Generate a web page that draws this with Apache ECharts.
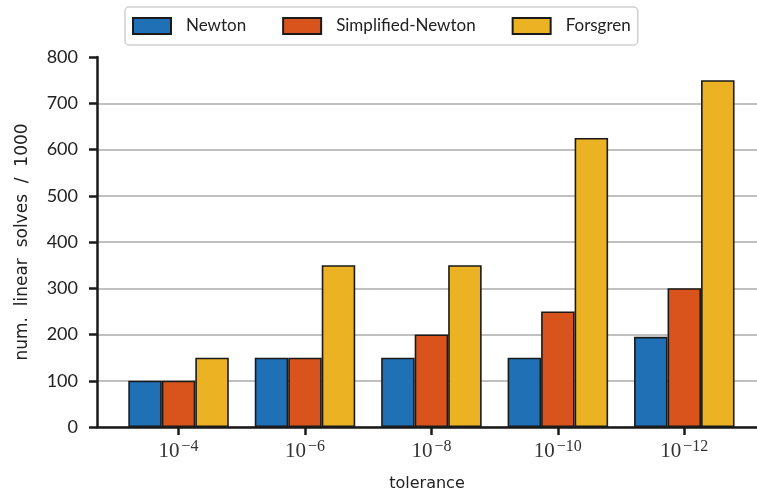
<!DOCTYPE html>
<html>
<head>
<meta charset="utf-8">
<script src="https://cdn.jsdelivr.net/npm/echarts@6/dist/echarts.min.js"></script>
<style>
  html, body { margin: 0; padding: 0; background: #fff; }
  #chart { width: 757px; height: 492px; }
</style>
</head>
<body>
<div id="chart"></div>
<script>
// tolerance exponents (10^x) for each group
const exponents = ['-4', '-6', '-8', '-10', '-12']
const seriesNames = ['Newton', 'Simplified-Newton', 'Forsgren']
const newton = [100, 150, 150, 150, 195]
const simplifiedNewton = [100, 150, 200, 250, 300]
const forsgren = [150, 350, 350, 625, 750]
const yTicks = [0, 100, 200, 300, 400, 500, 600, 700, 800]

const colors = ['#1f70b4', '#d9541c', '#ebb223']
const font = 'Lato'
const nameFont = 'DejaVu Sans'

const c = echarts.init(document.getElementById('chart'))

const mkBar = (name, vals, i) => ({
  name, type: 'bar',
  data: vals.map((v, k) => [k, v]),
  barWidth: 33.5, barGap: '0%',
  itemStyle: { color: colors[i], borderColor: '#1a1a1a', borderWidth: 1.6 }
})

c.setOption({
  animation: false,
  textStyle: { fontFamily: font },
  legend: {
    data: seriesNames,
    icon: 'rect',
    left: 125, top: 7,
    padding: [10, 7],
    itemWidth: 38, itemHeight: 16, itemGap: 36,
    borderColor: '#d0d0d0', borderWidth: 1.5, borderRadius: 4,
    textStyle: { fontSize: 17, color: '#222', fontFamily: font, padding: [0, 0, 0, 10] }
  },
  grid: { left: 97, right: 0, top: 57, bottom: 65, outerBoundsMode: 'none', containLabel: false },
  xAxis: {
    type: 'value', min: -0.645, max: 4.575,
    name: 'tolerance', nameLocation: 'middle', nameGap: 49,
    nameTextStyle: { fontSize: 16, color: '#222', fontFamily: nameFont },
    axisLine: { show: true, onZero: false, lineStyle: { color: '#1a1a1a', width: 2.5 } },
    axisTick: { show: true, customValues: [0, 1, 2, 3, 4], length: 8, lineStyle: { color: '#1a1a1a', width: 2.5 } },
    axisLabel: {
      customValues: [0, 1, 2, 3, 4], margin: 12,
      formatter: v => '{b|10}{s|' + exponents[Math.round(v)].replace('-', '−') + '}',
      rich: {
        b: { fontFamily: 'Liberation Serif', fontSize: 21, color: '#333', lineHeight: 24 },
        s: { fontFamily: 'Liberation Serif', fontSize: 16, color: '#333', verticalAlign: 'top', padding: [0, 0, 8, 2] }
      }
    },
    splitLine: { show: false }
  },
  yAxis: {
    type: 'value', min: yTicks[0], max: yTicks[yTicks.length - 1], interval: 100,
    name: 'num.  linear  solves  /  1000', nameLocation: 'middle', nameGap: 66,
    nameTextStyle: { fontSize: 17, color: '#222', fontFamily: nameFont },
    axisLine: { show: true, onZero: false, lineStyle: { color: '#1a1a1a', width: 2.5 } },
    axisTick: { show: true, length: 8, lineStyle: { color: '#1a1a1a', width: 2.5 } },
    axisLabel: { fontSize: 18, color: '#222', margin: 19 },
    splitLine: { show: true, showMaxLine: false, lineStyle: { color: '#c0c0c0', width: 2 } }
  },
  series: [
    mkBar(seriesNames[0], newton, 0),
    mkBar(seriesNames[1], simplifiedNewton, 1),
    mkBar(seriesNames[2], forsgren, 2)
  ]
})
window.addEventListener('resize', () => c.resize())
</script>
</body>
</html>
